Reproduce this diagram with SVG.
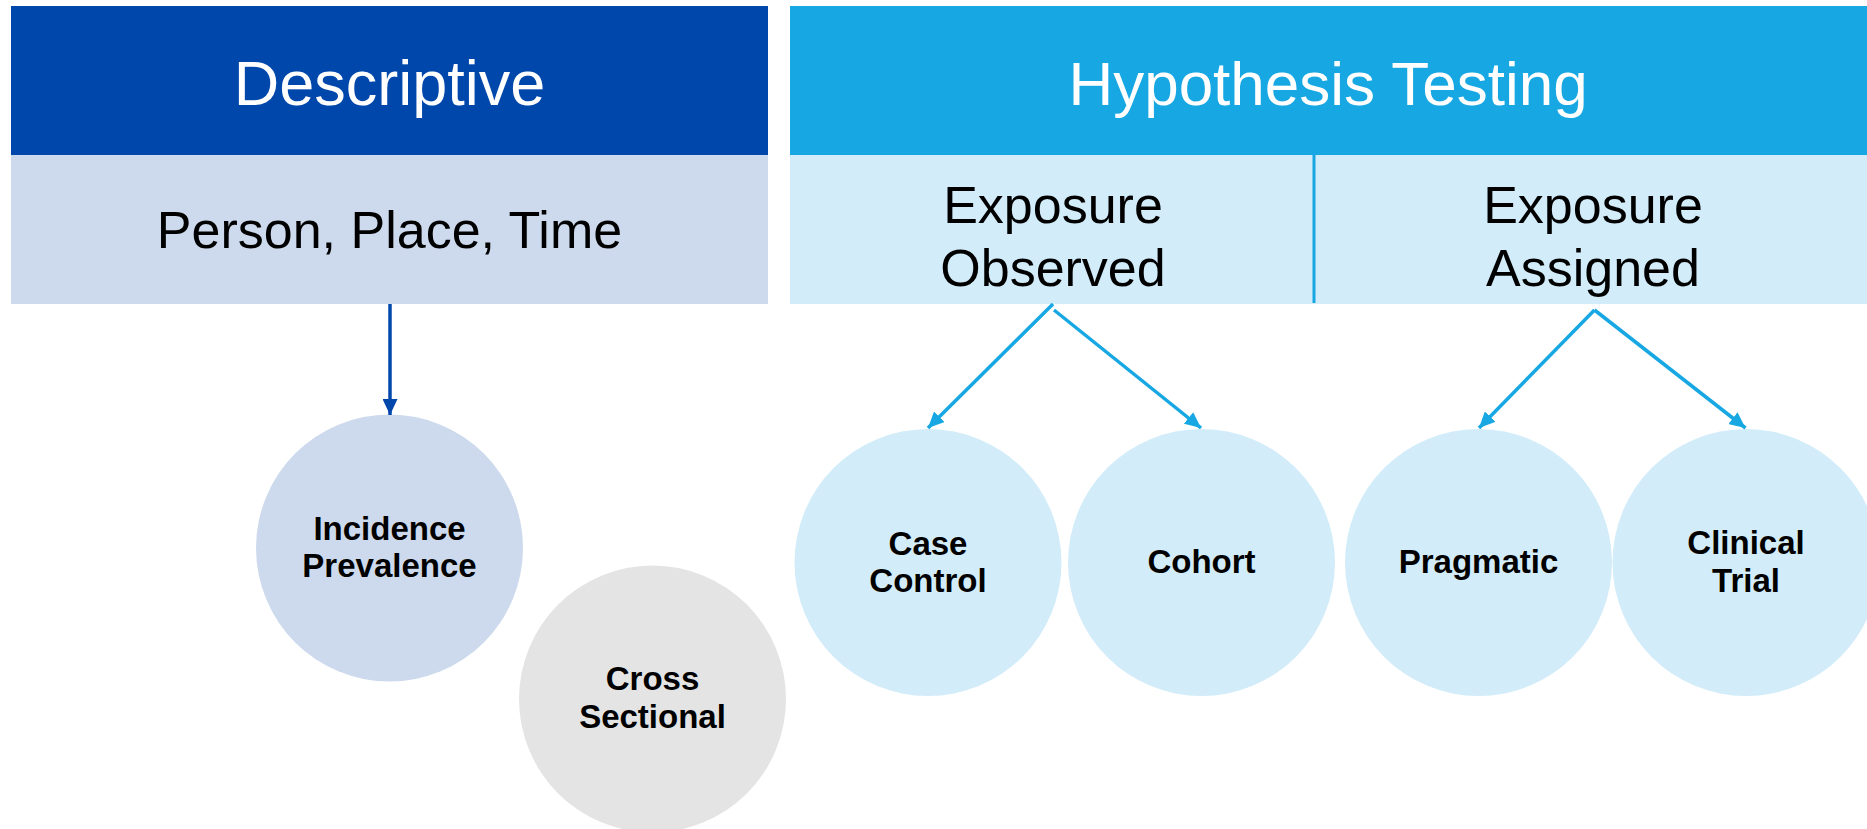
<svg xmlns="http://www.w3.org/2000/svg" width="1867" height="829" viewBox="0 0 1867 829">
  <style>
    .hdr { font-family: "Liberation Sans", Arial, sans-serif; font-size: 63px; fill: #ffffff; text-anchor: middle; }
    .sub { font-family: "Liberation Sans", Arial, sans-serif; font-size: 52px; fill: #000000; text-anchor: middle; }
    .lbl { font-family: "Liberation Sans", Arial, sans-serif; font-size: 33px; font-weight: bold; fill: #000000; text-anchor: middle; }
    .conn-d { stroke: #0047ab; stroke-width: 3.5; fill: none; }
    .conn-h { stroke: #17a8e3; stroke-width: 3.5; fill: none; }
  </style>
  <defs>
    <marker id="arrD" markerUnits="userSpaceOnUse" markerWidth="16" markerHeight="15" refX="16" refY="7.5" orient="auto">
      <path d="M0,0 L16,7.5 L0,15 z" fill="#0047ab"/>
    </marker>
    <marker id="arrH" markerUnits="userSpaceOnUse" markerWidth="16" markerHeight="15" refX="16" refY="7.5" orient="auto">
      <path d="M0,0 L16,7.5 L0,15 z" fill="#17a8e3"/>
    </marker>
  </defs>
  <rect x="0" y="0" width="1867" height="829" fill="#ffffff"/>

  <g id="descriptive">
    <rect x="11" y="6" width="757" height="149" fill="#0047ab"/>
    <text class="hdr" x="389.5" y="105">Descriptive</text>
  </g>
  <g id="person-place-time">
    <rect x="11" y="155" width="757" height="149" fill="#cddaed"/>
    <text class="sub" x="389.5" y="248">Person, Place, Time</text>
  </g>

  <g id="hypothesis-testing">
    <rect x="790" y="6" width="1077" height="149" fill="#17a8e3"/>
    <text class="hdr" x="1328" y="105" style="font-size:62px">Hypothesis Testing</text>
  </g>
  <g id="exposure-observed">
    <rect x="790" y="155" width="524" height="149" fill="#d2ecf9"/>
    <text class="sub" x="1053" y="223">Exposure</text>
    <text class="sub" x="1053" y="286">Observed</text>
  </g>
  <g id="exposure-assigned">
    <rect x="1314" y="155" width="553" height="149" fill="#d2ecf9"/>
    <text class="sub" x="1593" y="223">Exposure</text>
    <text class="sub" x="1593" y="286">Assigned</text>
  </g>
  <line x1="1314" y1="155" x2="1314" y2="303" stroke="#17a8e3" stroke-width="3"/>

  <g id="incidence-prevalence">
    <circle cx="389.5" cy="548" r="133.5" fill="#cddaed"/>
    <text class="lbl" x="389.5" y="540">Incidence</text>
    <text class="lbl" x="389.5" y="577">Prevalence</text>
  </g>
  <g id="cross-sectional">
    <circle cx="652.5" cy="699" r="133.5" fill="#e4e4e4"/>
    <text class="lbl" x="652.5" y="690">Cross</text>
    <text class="lbl" x="652.5" y="728">Sectional</text>
  </g>
  <g id="case-control">
    <circle cx="928" cy="562.5" r="133.5" fill="#d2ecf9"/>
    <text class="lbl" x="928" y="555">Case</text>
    <text class="lbl" x="928" y="592">Control</text>
  </g>
  <g id="cohort">
    <circle cx="1201.5" cy="562.5" r="133.5" fill="#d2ecf9"/>
    <text class="lbl" x="1201.5" y="573">Cohort</text>
  </g>
  <g id="pragmatic">
    <circle cx="1478.5" cy="562.5" r="133.5" fill="#d2ecf9"/>
    <text class="lbl" x="1478.5" y="573">Pragmatic</text>
  </g>
  <g id="clinical-trial">
    <circle cx="1746" cy="562.5" r="133.5" fill="#d2ecf9"/>
    <text class="lbl" x="1746" y="554">Clinical</text>
    <text class="lbl" x="1746" y="592">Trial</text>
  </g>

  <g id="connectors">
    <line class="conn-d" x1="390" y1="304" x2="390" y2="415" marker-end="url(#arrD)"/>
    <line class="conn-h" x1="1053" y1="304" x2="928" y2="428" marker-end="url(#arrH)"/>
    <line class="conn-h" x1="1054" y1="310" x2="1201" y2="428" marker-end="url(#arrH)"/>
    <line class="conn-h" x1="1594.5" y1="310" x2="1479" y2="428" marker-end="url(#arrH)"/>
    <line class="conn-h" x1="1594.5" y1="310" x2="1745.5" y2="428" marker-end="url(#arrH)"/>
  </g>
</svg>
